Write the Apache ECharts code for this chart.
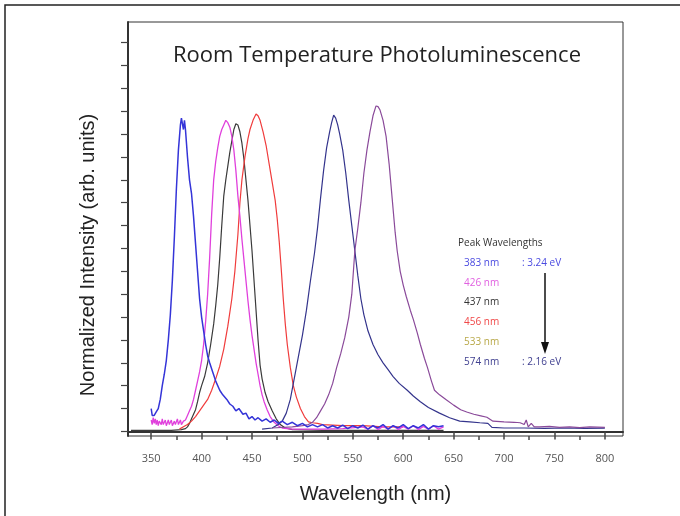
<!DOCTYPE html>
<html>
<head>
<meta charset="utf-8">
<script src="https://cdn.jsdelivr.net/npm/echarts@6/dist/echarts.min.js"></script>
<style>
  html, body { margin: 0; padding: 0; background: #fff; }
  #chart { width: 680px; height: 516px; }
</style>
</head>
<body>
<div id="chart"></div>
<script>
// wavelength (nm), intensity in axis tick units (arb.)
const blueData = [[350,1.0],[351,0.7],[353,0.7],[355,0.85],[357,1.0],[359,1.4],[361,2.0],[363,2.5],[365,3.1],[367,4.0],[369,5.1],[371,6.6],[373,8.5],[375,10.6],[377,12.3],[379,13.4],[380,13.7],[381,13.45],[382,13.2],[383,13.6],[384,13.2],[386,12.0],[388,11.0],[390,10.4],[392,9.4],[394,8.2],[396,7.0],[398,5.8],[400,5.0],[402,4.4],[404,3.8],[406,3.3],[408,3.0],[411,2.6],[414,2.2],[418,1.8],[421,1.6],[425,1.4],[428,1.2],[431,1.1],[434,0.9],[437,1.0],[441,0.75],[444,0.8],[447,0.55],[450,0.65],[453,0.5],[456,0.6],[460,0.45],[464,0.55],[468,0.4],[472,0.5],[476,0.35],[480,0.45],[485,0.3],[490,0.4],[495,0.25],[500,0.35],[505,0.2],[510,0.3],[515,0.2],[520,0.3],[525,0.15],[530,0.25],[535,0.15],[540,0.28],[545,0.12],[550,0.25],[555,0.15],[560,0.28],[565,0.1],[570,0.25],[575,0.15],[580,0.3],[585,0.1],[590,0.25],[595,0.15],[600,0.3],[605,0.12],[610,0.25],[615,0.15],[620,0.3],[625,0.1],[630,0.25],[635,0.2],[640,0.25]];
const magentaData = [[350,0.5],[351,0.3],[352,0.6],[353,0.35],[354,0.55],[355,0.3],[356,0.5],[357,0.25],[358,0.45],[360,0.3],[361,0.55],[362,0.3],[364,0.5],[365,0.25],[367,0.5],[368,0.3],[370,0.5],[371,0.25],[373,0.45],[374,0.3],[376,0.55],[377,0.3],[379,0.5],[380,0.3],[382,0.45],[384,0.5],[386,0.7],[388,0.9],[390,1.1],[392,1.4],[394,1.8],[396,2.2],[398,2.6],[400,3.1],[402,3.8],[404,4.8],[406,6.0],[408,7.6],[410,9.5],[412,11.0],[414,11.8],[416,12.4],[418,12.9],[420,13.2],[422,13.4],[424,13.6],[426,13.5],[428,13.3],[430,12.9],[432,12.3],[434,11.4],[436,10.3],[438,9.4],[440,8.4],[442,7.5],[444,6.6],[446,5.7],[448,4.9],[450,4.2],[452,3.6],[454,3.0],[456,2.5],[458,2.0],[460,1.6],[462,1.3],[465,0.95],[468,0.65],[472,0.4],[476,0.25],[480,0.15],[490,0.1],[500,0.1],[520,0.1],[540,0.12],[560,0.2],[565,0.1],[570,0.25],[575,0.08],[580,0.22],[585,0.1],[590,0.25],[595,0.08],[600,0.22],[605,0.1],[610,0.25],[615,0.08],[620,0.22],[625,0.1],[630,0.25],[635,0.1],[640,0.2]];
const blackData = [[330,0.05],[350,0.05],[370,0.05],[380,0.08],[384,0.12],[386,0.2],[388,0.35],[390,0.55],[392,0.75],[394,0.95],[396,1.3],[398,1.7],[400,2.0],[403,2.4],[406,3.0],[409,3.8],[412,4.7],[414,5.5],[416,6.4],[418,7.6],[420,9.0],[422,10.3],[424,11.0],[426,11.6],[428,12.2],[430,12.7],[432,13.2],[434,13.45],[435,13.5],[436,13.4],[438,13.1],[440,12.6],[442,11.9],[444,11.0],[446,10.1],[448,9.0],[450,7.9],[452,6.6],[454,5.3],[456,4.0],[458,2.9],[460,2.3],[463,1.7],[466,1.3],[470,0.9],[474,0.55],[478,0.3],[483,0.15],[490,0.08],[520,0.05],[560,0.05],[600,0.05],[640,0.05]];
const redData = [[378,0.1],[382,0.2],[386,0.3],[390,0.45],[394,0.65],[398,0.9],[402,1.15],[406,1.4],[410,1.8],[414,2.3],[418,2.85],[422,3.6],[426,4.6],[430,5.8],[433,7.0],[436,8.6],[438,10.0],[440,11.0],[443,12.0],[446,12.8],[448,13.2],[451,13.6],[454,13.88],[456,13.8],[458,13.6],[461,13.1],[464,12.5],[467,11.7],[470,10.9],[473,10.1],[475,9.3],[477,8.3],[479,7.1],[481,5.8],[483,4.7],[485,3.8],[488,2.8],[491,2.0],[494,1.5],[498,1.0],[502,0.65],[506,0.42],[510,0.38],[515,0.35],[520,0.3],[540,0.25],[560,0.25],[580,0.2],[600,0.2]];
const navyData = [[460,0.1],[470,0.15],[476,0.3],[480,0.45],[484,0.8],[488,1.4],[491,2.1],[494,2.8],[497,3.5],[500,4.2],[504,5.3],[508,6.6],[512,7.8],[515,8.9],[518,10.2],[521,11.4],[524,12.4],[527,13.1],[529,13.5],[531,13.83],[533,13.7],[535,13.4],[537,13.0],[540,12.3],[543,11.3],[546,10.1],[549,9.0],[552,7.9],[555,6.8],[558,5.8],[561,5.1],[565,4.4],[570,3.8],[575,3.35],[580,3.0],[585,2.7],[590,2.4],[596,2.1],[604,1.8],[610,1.55],[617,1.3],[625,1.05],[636,0.8],[646,0.6],[656,0.45],[666,0.42],[676,0.38],[684,0.35],[688,0.18],[700,0.15],[720,0.15],[740,0.13],[760,0.15],[780,0.13],[800,0.14]];
const purpleData = [[470,0.15],[490,0.2],[500,0.25],[506,0.3],[510,0.4],[514,0.6],[518,0.9],[522,1.2],[526,1.6],[530,2.1],[534,2.8],[538,3.4],[542,4.1],[546,5.0],[549,6.0],[552,7.9],[555,8.9],[558,10.0],[561,11.3],[564,12.3],[567,13.1],[570,13.8],[573,14.23],[575,14.2],[577,14.05],[580,13.6],[583,12.9],[586,11.7],[589,10.2],[592,8.7],[594,7.9],[597,7.0],[600,6.4],[603,5.9],[607,5.3],[610,4.9],[614,4.3],[617,3.8],[621,3.2],[624,2.8],[628,2.2],[631,1.8],[636,1.6],[643,1.37],[650,1.15],[657,0.95],[663,0.85],[670,0.75],[677,0.68],[683,0.62],[689,0.45],[700,0.42],[710,0.4],[716,0.38],[720,0.3],[722,0.5],[724,0.2],[727,0.35],[730,0.2],[735,0.2],[745,0.22],[755,0.18],[765,0.2],[775,0.17],[785,0.2],[800,0.18]];

const xLabels = [350, 400, 450, 500, 550, 600, 650, 700, 750, 800];
const xMinor = [375, 425, 475, 525, 575, 625, 675, 725, 775];
const yTicks = [0,1,2,3,4,5,6,7,8,9,10,11,12,13,14,15,16,17];

const peakLabels = ['383 nm', '426 nm', '437 nm', '456 nm', '533 nm', '574 nm'];
const peakColors = ['#4a4ae0', '#e060e0', '#333333', '#f04848', '#b8a848', '#404090'];

const chart = echarts.init(document.getElementById('chart'));

const mkLine = (data, color, width) => ({
  type: 'line',
  data: data,
  showSymbol: false,
  smooth: false,
  lineStyle: { color: color, width: width || 1.2 },
  silent: true
});

const legendTexts = peakLabels.map((t, i) => ({
  type: 'text',
  left: 464,
  top: 258 + i * 19.8,
  style: { text: t, fill: peakColors[i], font: '10px "Open Sans"' }
}));

chart.setOption({
  animation: false,
  backgroundColor: '#fff',
  grid: { left: 128, right: 57, top: 22, bottom: 80, show: true, borderColor: '#333', borderWidth: 1 },
  xAxis: [
    {
      type: 'value', min: 327, max: 818,
      name: 'Wavelength (nm)', nameLocation: 'middle', nameGap: 48,
      nameTextStyle: { fontFamily: 'Liberation Sans', fontSize: 20, color: '#222' },
      axisLine: { lineStyle: { color: '#333', width: 2 } },
      axisTick: { customValues: xLabels, length: 8, lineStyle: { color: '#444', width: 1.5 } },
      axisLabel: { customValues: xLabels, margin: 17, color: '#555', fontFamily: 'Open Sans', fontSize: 11 },
      splitLine: { show: false }
    },
    {
      type: 'value', min: 327, max: 818, position: 'bottom',
      axisLine: { show: false },
      axisTick: { customValues: xMinor, length: 4, lineStyle: { color: '#444', width: 1.5 } },
      axisLabel: { show: false },
      splitLine: { show: false }
    }
  ],
  yAxis: {
    type: 'value', min: -0.2, max: 17.9,
    axisLine: { show: true, lineStyle: { color: '#333', width: 2 } },
    axisTick: { show: true, customValues: yTicks, length: 7, lineStyle: { color: '#444', width: 1.2 } },
    axisLabel: { show: false },
    splitLine: { show: false }
  },
  graphic: [
    { type: 'rect', shape: { x: 5, y: 5, width: 700, height: 530 }, style: { fill: 'none', stroke: '#222', lineWidth: 1.5 }, silent: true },
    { type: 'text', x: 377, y: 56, style: { text: 'Room Temperature Photoluminescence', fill: '#222', font: '22px "Open Sans"', align: 'center', verticalAlign: 'middle' } },
    { type: 'text', x: 88, y: 255, rotation: Math.PI / 2, style: { text: 'Normalized Intensity (arb. units)', fill: '#222', font: '20px "Liberation Sans"', align: 'center', verticalAlign: 'middle' } },
    { type: 'text', left: 458, top: 238, style: { text: 'Peak Wavelengths', fill: '#333', font: '10px "Open Sans"' } },
    { type: 'text', left: 522, top: 258, style: { text: ': 3.24 eV', fill: '#4a4ae0', font: '10px "Open Sans"' } },
    { type: 'text', left: 522, top: 357, style: { text: ': 2.16 eV', fill: '#404090', font: '10px "Open Sans"' } },
    { type: 'line', shape: { x1: 545, y1: 273, x2: 545, y2: 344 }, style: { stroke: '#111', lineWidth: 1.5 } },
    { type: 'polygon', shape: { points: [[541, 342], [549, 342], [545, 354]] }, style: { fill: '#111' } }
  ].concat(legendTexts),
  series: [
    mkLine(blackData, '#3a3a3a'),
    mkLine(redData, '#f03c3c'),
    mkLine(magentaData, '#e040dc', 1.3),
    mkLine(navyData, '#34348c'),
    mkLine(purpleData, '#8a4a9a'),
    mkLine(blueData, '#3434d8', 1.5)
  ]
});
</script>
</body>
</html>
